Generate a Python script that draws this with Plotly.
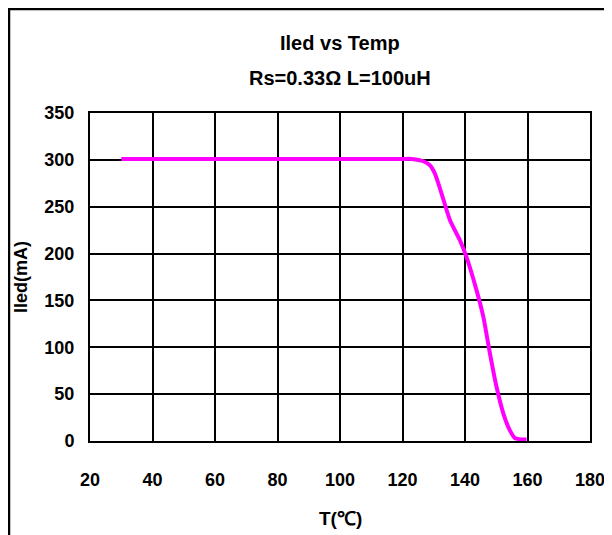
import plotly.graph_objects as go

# ---- data ----
temp = [30, 40, 60, 80, 100, 120, 122.9, 126.7, 128.8, 130.4, 132.5, 135.2, 138.4,
        140.3, 143.7, 145.9, 148, 150.1, 152.3, 154.4, 156, 159.7]
iled = [301, 301, 301, 301, 301, 301, 301, 298.5, 294, 285, 264, 235.5, 214,
        198, 160.7, 132, 93, 57.6, 29, 11, 3, 1.5]

x_ticks = [20, 40, 60, 80, 100, 120, 140, 160, 180]
y_ticks = [0, 50, 100, 150, 200, 250, 300, 350]

SANS = "Liberation Sans, Arial, sans-serif"

fig = go.Figure()
fig.add_trace(go.Scatter(
    x=temp, y=iled, mode="lines",
    line=dict(color="#FF00FF", width=4, shape="spline", smoothing=0.6),
    showlegend=False, hoverinfo="skip"))

axis_common = dict(
    showline=True, mirror=True, linecolor="black", linewidth=2,
    showgrid=True, gridcolor="black", gridwidth=1.5,
    zeroline=False, ticks="", automargin=False,
    tickfont=dict(family=SANS, size=18, color="black", weight="bold"),
)

fig.update_xaxes(range=[20, 180], tickvals=x_ticks, ticklabelstandoff=21, **axis_common)
fig.update_yaxes(range=[0, 350], tickvals=y_ticks, ticklabelstandoff=10, **axis_common)

# title (two lines) and axis titles
labels = [
    ("Iled vs Temp", 0.5, 1.2134, 0, 20),
    ("Rs=0.33Ω L=100uH", 0.5, 1.1067, 0, 20),
    ("T(℃)", 0.5, -0.2348, 0, 19),
    ("Iled(mA)", -0.138, 0.5, -90, 18),
]
for txt, xp, yp, ang, sz in labels:
    fig.add_annotation(text=txt, xref="paper", yref="paper", x=xp, y=yp,
                       xanchor="center", yanchor="middle", showarrow=False,
                       textangle=ang,
                       font=dict(family=SANS, size=sz, color="black", weight="bold"))

# outer chart frame (cropped at right and bottom in the reference)
fig.add_shape(type="rect", xref="paper", yref="paper",
              x0=-0.162, x1=1.2, y0=-0.5, y1=1.317,
              line=dict(color="black", width=2.5), layer="below")

# the page body adds an 8px offset, so margins are shifted by that much
fig.update_layout(
    width=612, height=535,
    margin=dict(l=82, r=30, t=105, b=102),
    paper_bgcolor="white", plot_bgcolor="white",
)

fig.write_html("out.html")
